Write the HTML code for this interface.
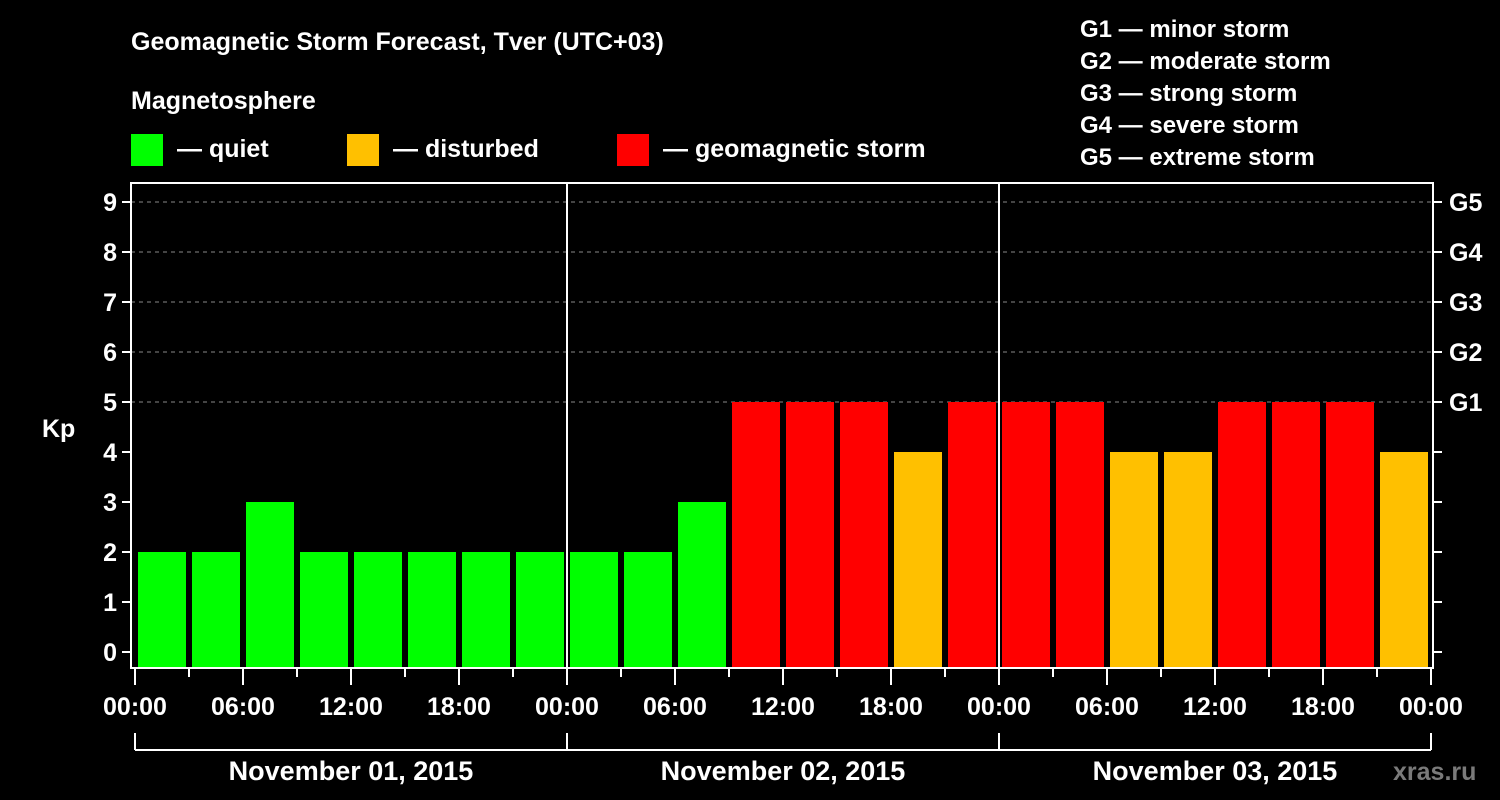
<!DOCTYPE html>
<html><head><meta charset="utf-8">
<style>
html,body{margin:0;padding:0;background:#000;}
svg{display:block;font-family:"Liberation Sans",Arial,sans-serif;font-weight:bold;}
</style></head>
<body>
<svg id="chart" width="1500" height="800" viewBox="0 0 1500 800" xmlns="http://www.w3.org/2000/svg">
<rect x="0" y="0" width="1500" height="800" fill="#000"/>
<text x="131" y="50" fill="#fff" font-size="25">Geomagnetic Storm Forecast, Tver (UTC+03)</text>
<text x="131" y="109" fill="#fff" font-size="25">Magnetosphere</text>
<g>
<rect x="131" y="134" width="32" height="32" fill="#00ff00"/>
<text x="177" y="157" fill="#fff" font-size="25">— quiet</text>
<rect x="347" y="134" width="32" height="32" fill="#ffc000"/>
<text x="393" y="157" fill="#fff" font-size="25">— disturbed</text>
<rect x="617" y="134" width="32" height="32" fill="#ff0000"/>
<text x="663" y="157" fill="#fff" font-size="25">— geomagnetic storm</text>
</g>
<g fill="#fff" font-size="24">
<text x="1080" y="37">G1 — minor storm</text>
<text x="1080" y="69">G2 — moderate storm</text>
<text x="1080" y="101">G3 — strong storm</text>
<text x="1080" y="133">G4 — severe storm</text>
<text x="1080" y="165">G5 — extreme storm</text>
</g>
<text x="42" y="437" fill="#fff" font-size="25">Kp</text>
<text x="1393" y="780" fill="#7a7a7a" font-size="25">xras.ru</text>
<g id="grid"></g>
<g id="bars"></g>
<g id="axes"></g>
</svg>
<script>
const kpValues = [2,2,3,2,2,2,2,2, 2,2,3,5,5,5,4,5, 5,5,4,4,5,5,5,4];
const barLevels = ["q","q","q","q","q","q","q","q", "q","q","q","s","s","s","d","s", "s","s","d","d","s","s","s","d"];
const yTicks = [0,1,2,3,4,5,6,7,8,9];
const gLabels = ["G1","G2","G3","G4","G5"];
const gLevels = [5,6,7,8,9];
const timeLabels = ["00:00","06:00","12:00","18:00","00:00","06:00","12:00","18:00","00:00","06:00","12:00","18:00","00:00"];
const dayLabels = ["November 01, 2015","November 02, 2015","November 03, 2015"];

const NS="http://www.w3.org/2000/svg";
const colors={q:"#00ff00",d:"#ffc000",s:"#ff0000"};
const x0=135, pxPerHour=18, yZero=652, pxPerKp=50;
const X=h=>x0+h*pxPerHour;
const Y=k=>yZero-k*pxPerKp;
const L=131, R=1433, T=183, B=668;
function mk(tag,attrs,parent){const e=document.createElementNS(NS,tag);for(const k in attrs)e.setAttribute(k,attrs[k]);parent.appendChild(e);return e;}
const grid=document.getElementById('grid'), bars=document.getElementById('bars'), axes=document.getElementById('axes');

gLevels.forEach(k=>{
  const l=mk('line',{x1:L,x2:R,y1:Y(k),y2:Y(k),stroke:'#888','stroke-width':1,'stroke-dasharray':'4,4'},grid);
  
  
});
[24,48].forEach(h=>{
  const l=mk('line',{x1:X(h),x2:X(h),y1:T,y2:B,stroke:'#fff','stroke-width':2},grid);
  
  
});

kpValues.forEach((v,i)=>{
  const top=Y(v);
  const r=mk('rect',{x:X(i*3)+3,y:top,width:48,height:B-1-top,fill:colors[barLevels[i]]},bars);
  
  
});

const frame=mk('rect',{x:L,y:T,width:R-L,height:B-T,fill:'none',stroke:'#fff','stroke-width':2},axes);



yTicks.forEach(k=>{
  mk('line',{x1:L-9,x2:L,y1:Y(k),y2:Y(k),stroke:'#fff','stroke-width':2},axes);
  mk('line',{x1:R,x2:R+9,y1:Y(k),y2:Y(k),stroke:'#fff','stroke-width':2},axes);
  const t=mk('text',{x:L-14,y:Y(k)+9,fill:'#fff','font-size':25,'text-anchor':'end'},axes);
  t.textContent=k;
  
  
});
gLabels.forEach((g,i)=>{
  const t=mk('text',{x:R+16,y:Y(gLevels[i])+9,fill:'#fff','font-size':25},axes);
  t.textContent=g;
  
  
});
for(let h=0;h<=72;h+=3){
  const major=h%6===0;
  mk('line',{x1:X(h),x2:X(h),y1:B,y2:major?B+17:B+9,stroke:'#fff','stroke-width':2},axes);
}
timeLabels.forEach((s,i)=>{
  const t=mk('text',{x:X(i*6),y:715,fill:'#fff','font-size':25,'text-anchor':'middle'},axes);
  t.textContent=s;
  
  
});
mk('line',{x1:X(0),x2:X(72),y1:750,y2:750,stroke:'#fff','stroke-width':2},axes);
[0,24,48,72].forEach(h=>mk('line',{x1:X(h),x2:X(h),y1:733,y2:750,stroke:'#fff','stroke-width':2},axes));
dayLabels.forEach((s,i)=>{
  const t=mk('text',{x:X(i*24+12),y:780,fill:'#fff','font-size':27,'text-anchor':'middle'},axes);
  t.textContent=s;
  
  
});
</script>
</body></html>
